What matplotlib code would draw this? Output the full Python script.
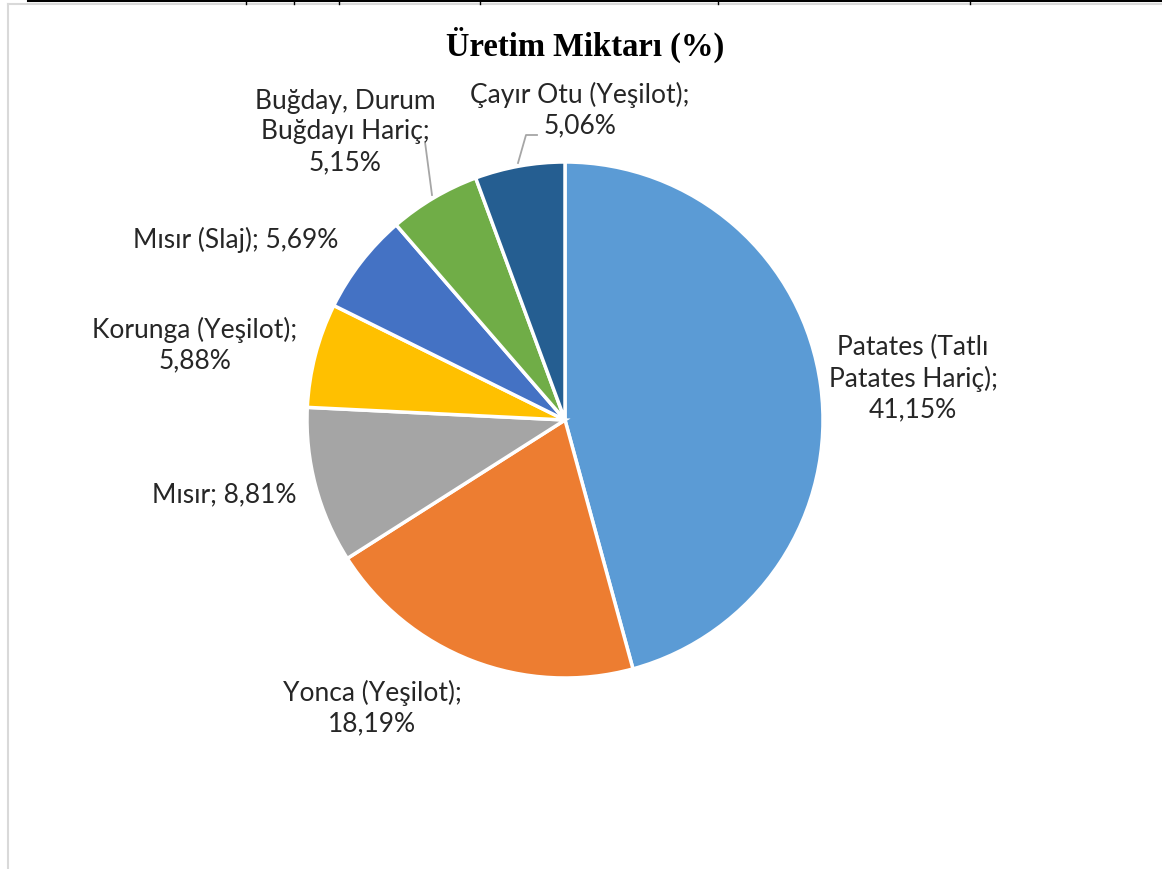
import matplotlib
matplotlib.use("Agg")
import matplotlib.pyplot as plt
from matplotlib.lines import Line2D

# data
crops = ["Patates (Tatlı\nPatates Hariç)", "Yonca (Yeşilot)", "Mısır", "Korunga (Yeşilot)",
         "Mısır (Slaj)", "Buğday, Durum\nBuğdayı Hariç", "Çayır Otu (Yeşilot)"]
shares = [41.15, 18.19, 8.81, 5.88, 5.69, 5.15, 5.06]
share_txt = ["41,15%", "18,19%", "8,81%", "5,88%", "5,69%", "5,15%", "5,06%"]
colors = ["#5B9BD5", "#ED7D31", "#A5A5A5", "#FFC000", "#4472C4", "#70AD47", "#255E91"]

# label layout (pixel centres in the image) and how the text is split
label_pos = [(913, 379), (372, 708), (224, 495), (195, 345), (236, 240), (345, 132), (580, 110)]
label_sep = [";\n", ";\n", "; ", ";\n", "; ", ";\n", ";\n"]

W, H = 1162, 869
fig = plt.figure(figsize=(W / 100, H / 100), dpi=100)

cx, cy, r = 565, 420, 258
half = 400
ax = fig.add_axes([(cx - half) / W, (H - cy - half) / H, 2 * half / W, 2 * half / H])

ax.pie(shares, colors=colors, startangle=90, counterclock=False, radius=1,
       wedgeprops=dict(edgecolor="white", linewidth=2.5))
lim = half / r
ax.set_xlim(-lim, lim)
ax.set_ylim(-lim, lim)
ax.axis("off")


def px(x, y):
    return ((x - cx) / r, (cy - y) / r)


for name, val, sep, (lx, ly) in zip(crops, share_txt, label_sep, label_pos):
    ax.text(*px(lx, ly), name + sep + val, ha="center", va="center",
            fontsize=19, family="Lato", color="#262626", linespacing=1.27)

# leader lines
lead1 = [px(432, 195), px(425, 142)]
lead2 = [px(518, 163), px(526, 135), px(537, 135)]
for pts in (lead1, lead2):
    ax.plot([p[0] for p in pts], [p[1] for p in pts], color="#A6A6A6", lw=1.3)

fig.text(585 / W, 1 - 45 / H, "Üretim Miktarı (%)", ha="center", va="center",
         fontsize=23.5, fontweight="bold", family="Liberation Serif")

# page borders
gray = "#D9D9D9"
fig.add_artist(Line2D([8 / W, 1], [1 - 4 / H, 1 - 4 / H], color=gray, lw=1.5))
fig.add_artist(Line2D([8 / W, 8 / W], [0, 1 - 4 / H], color=gray, lw=1.5))
fig.add_artist(Line2D([28 / W, 1], [1 - 1 / H, 1 - 1 / H], color="black", lw=1.5))
for tx in [246, 294, 339, 480, 718, 970]:
    fig.add_artist(Line2D([tx / W, tx / W], [1 - 4 / H, 1], color="black", lw=1))

fig.savefig("out.png", dpi=100)
